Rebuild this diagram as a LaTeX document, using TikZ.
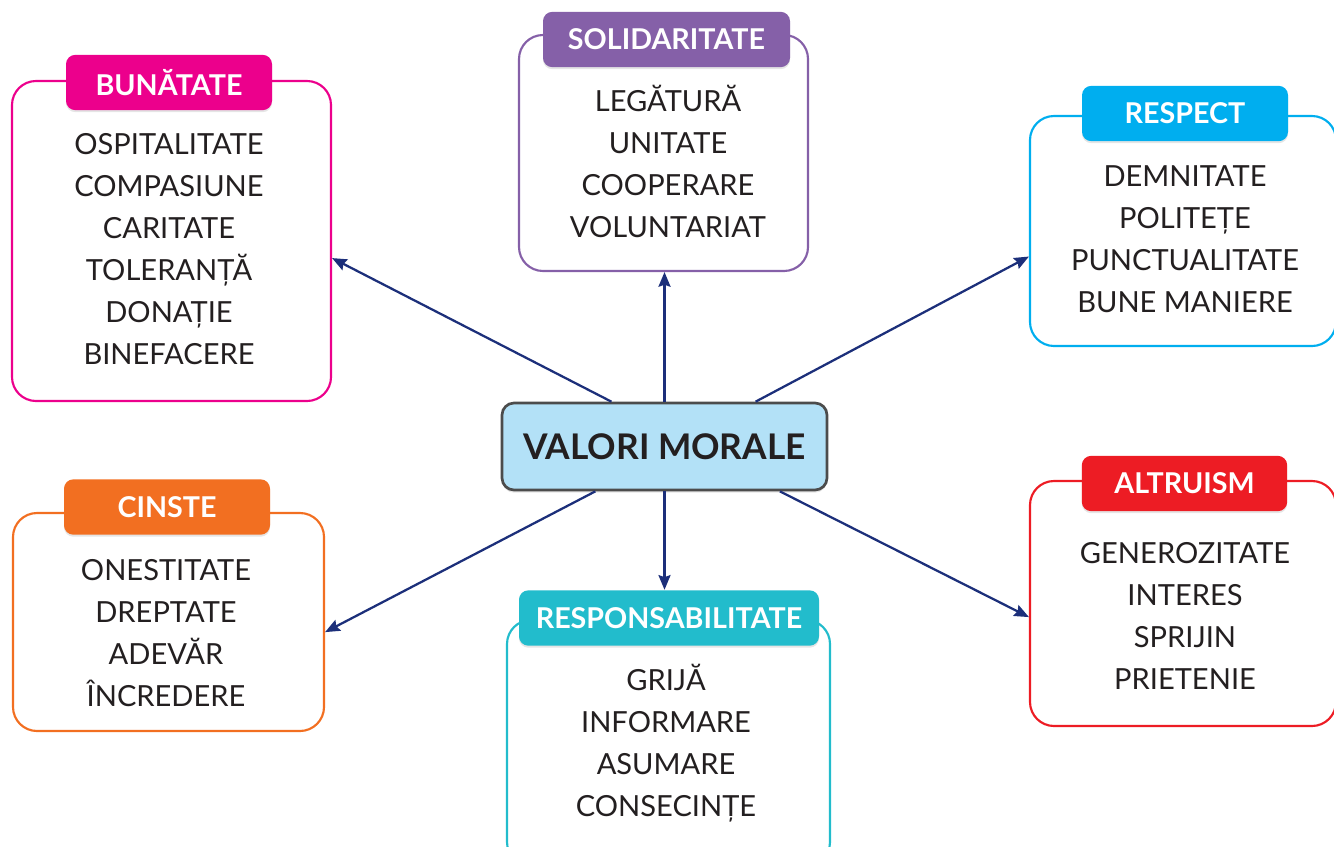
\documentclass[tikz,border=0pt]{standalone}
\usepackage{fontspec}
\setmainfont{Lato}
\usetikzlibrary{positioning, arrows.meta, calc, shadows}
\definecolor{navy}{HTML}{1C2F7A}
\definecolor{bunc}{HTML}{EC008C}
\definecolor{solc}{HTML}{8560A8}
\definecolor{resc}{HTML}{00AEEF}
\definecolor{cinc}{HTML}{F26F21}
\definecolor{rspc}{HTML}{22BCCC}
\definecolor{altc}{HTML}{ED1C24}
\definecolor{valc}{HTML}{B3E1F7}
\definecolor{ink}{HTML}{231F20}

\begin{document}
\begin{tikzpicture}[x=0.75pt, y=-0.75pt, thick,
        main/.style = {draw, rounded corners=18pt, line width=1.6pt, fill=white, inner sep=0pt},
        head/.style = {rounded corners=7pt, text=white, minimum height=41.5pt, inner sep=0pt,
            font=\bfseries\fontsize{21.5}{24}\selectfont,
            drop shadow={opacity=0.2, shadow xshift=0pt, shadow yshift=-1.5pt}},
        lines/.style = {align=center, text=ink, font=\fontsize{21.8}{31.5}\selectfont},
        link/.style = {navy, line width=1.7pt, -{Stealth[length=11pt, width=9pt, inset=1.5pt]}}]
    \useasboundingbox (0,0) rectangle (1334,846);
    % centre
    \node[draw=black!70, line width=2pt, fill=valc, rounded corners=9pt, minimum width=243.75pt,
        minimum height=65.25pt, font=\bfseries\fontsize{26.5}{30}\selectfont, text=ink,
        drop shadow={opacity=0.2, shadow xshift=0pt, shadow yshift=-2pt}] (0) at (664.5,446.5) {VALORI MORALE};
    % boxes
    \node[main, draw=bunc, minimum width=239.25pt, minimum height=240pt] (1) at (171.5,241) {};
    \node[main, draw=solc, minimum width=216.75pt, minimum height=177pt] (2) at (663.5,153) {};
    \node[main, draw=resc, minimum width=229.5pt, minimum height=172.5pt] (3) at (1183,231) {};
    \node[main, draw=cinc, minimum width=233.25pt, minimum height=163.5pt] (4) at (168.5,622) {};
    \node[main, draw=rspc, minimum width=242.25pt, minimum height=184.5pt] (5) at (668.5,743) {};
    \node[main, draw=altc, minimum width=229.5pt, minimum height=183.75pt] (6) at (1183,603.5) {};
    % headers
    \node[head, fill=bunc, minimum width=154.5pt] (1h) at (169,82.5) {BUNĂTATE};
    \node[head, fill=solc, minimum width=185.25pt] (2h) at (666.5,39.5) {SOLIDARITATE};
    \node[head, fill=resc, minimum width=154.5pt] (3h) at (1185,113.5) {RESPECT};
    \node[head, fill=cinc, minimum width=154.5pt] (4h) at (167,507) {CINSTE};
    \node[head, fill=rspc, minimum width=225pt] (5h) at (669,618) {RESPONSABILITATE};
    \node[head, fill=altc, minimum width=154pt] (6h) at (1184.5,483.5) {ALTRUISM};
    % texts
    \node[lines] (1t) at (169,249) {OSPITALITATE\\COMPASIUNE\\CARITATE\\TOLERANȚĂ\\DONAȚIE\\BINEFACERE};
    \node[lines] (2t) at (668,161) {LEGĂTURĂ\\UNITATE\\COOPERARE\\VOLUNTARIAT};
    \node[lines] (3t) at (1185,239) {DEMNITATE\\POLITEȚE\\PUNCTUALITATE\\BUNE MANIERE};
    \node[lines] (4t) at (166,633) {ONESTITATE\\DREPTATE\\ADEVĂR\\ÎNCREDERE};
    \node[lines] (5t) at (666,743) {GRIJĂ\\INFORMARE\\ASUMARE\\CONSECINȚE};
    \node[lines] (6t) at (1185,616) {GENEROZITATE\\INTERES\\SPRIJIN\\PRIETENIE};
    % arrows
    \draw[link] ($(0.north west)!0.338!(0.north east)$) -- ($(1.north east)!0.553!(1.south east)$);
    \draw[link] (0.north) -- (0.north |- 2.south);
    \draw[link] ($(0.north west)!0.778!(0.north east)$) -- ($(3.north west)!0.61!(3.south west)$);
    \draw[link] ($(0.south west)!0.289!(0.south east)$) -- ($(4.north east)!0.546!(4.south east)$);
    \draw[link] (0.south) -- (0.south |- 5h.north);
    \draw[link] ($(0.south west)!0.852!(0.south east)$) -- ($(6.north west)!0.555!(6.south west)$);
\end{tikzpicture}
\end{document}
